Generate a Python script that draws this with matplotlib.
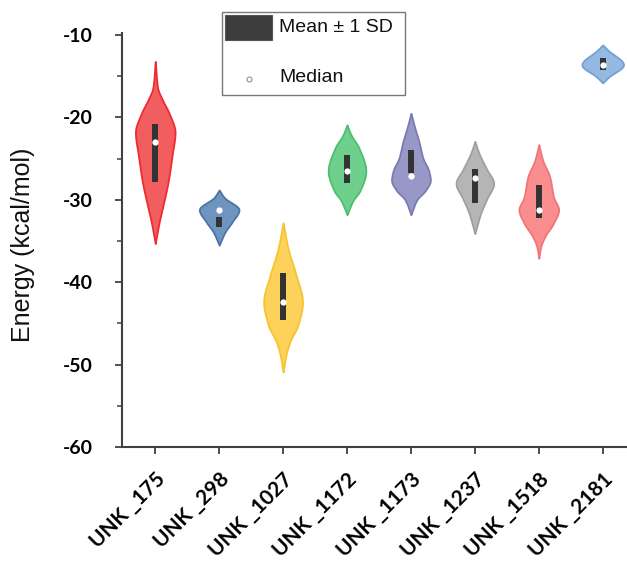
import numpy as np
import matplotlib
matplotlib.use("Agg")
import matplotlib.pyplot as plt
from matplotlib.patches import Rectangle
from matplotlib.lines import Line2D
from matplotlib.ticker import MultipleLocator

plt.rcParams["axes.unicode_minus"] = False

# ---------------- data ----------------
categories = ["UNK _175", "UNK _298", "UNK _1027", "UNK _1172",
              "UNK _1173", "UNK _1237", "UNK _1518", "UNK _2181"]
means = [-24.3, -32.7, -41.75, -26.3, -25.35, -28.35, -30.2, -13.5]
sds = [3.5, 0.6, 2.85, 1.7, 1.35, 2.05, 2.0, 0.7]
medians = [-23.0, -31.2, -42.4, -26.5, -27.1, -27.4, -31.2, -13.6]

# density profile: energy levels and relative width
prof_175_y = [-13.2, -16.4, -17.8, -19.5, -21.8, -24.6, -27.8, -30.6, -32.7, -35.3]
prof_175_w = [0, 0.12, 0.35, 0.70, 1.0, 0.85, 0.65, 0.40, 0.20, 0]
prof_298_y = [-28.8, -29.7, -31.2, -32.7, -33.9, -35.5]
prof_298_w = [0, 0.25, 1.0, 0.65, 0.30, 0]
prof_1027_y = [-32.8, -35.9, -39.1, -42.4, -45.2, -47.2, -48.8, -50.9]
prof_1027_w = [0, 0.25, 0.65, 0.98, 0.75, 0.35, 0.15, 0]
prof_1172_y = [-20.9, -22.1, -23.7, -26.5, -28.9, -30.1, -31.8]
prof_1172_w = [0, 0.20, 0.60, 0.95, 0.65, 0.30, 0]
prof_1173_y = [-19.5, -21.3, -22.9, -24.9, -26.5, -27.6, -28.8, -30.0, -31.8]
prof_1173_w = [0, 0.20, 0.40, 0.60, 0.90, 0.98, 0.75, 0.30, 0]
prof_1237_y = [-22.9, -24.3, -26.3, -28.0, -29.9, -31.6, -32.8, -34.1]
prof_1237_w = [0, 0.20, 0.60, 0.95, 0.60, 0.30, 0.15, 0]
prof_1518_y = [-23.3, -25.2, -27.2, -29.7, -31.2, -32.8, -34.5, -35.7, -37.1]
prof_1518_w = [0, 0.20, 0.55, 0.75, 1.0, 0.75, 0.30, 0.10, 0]
prof_2181_y = [-11.2, -11.8, -13.6, -15.1, -15.8]
prof_2181_w = [0, 0.25, 1.05, 0.30, 0]

profiles_y = [prof_175_y, prof_298_y, prof_1027_y, prof_1172_y,
              prof_1173_y, prof_1237_y, prof_1518_y, prof_2181_y]
profiles_w = [prof_175_w, prof_298_w, prof_1027_w, prof_1172_w,
              prof_1173_w, prof_1237_w, prof_1518_w, prof_2181_w]

face_colors = ["#f25d5f", "#6f94bf", "#fdd25a", "#6fd08e",
               "#9797c8", "#b5b5b5", "#fa8e8e", "#94b9e3"]
edge_colors = ["#ee2b2f", "#4d74a5", "#f7c32e", "#4cbf6d",
               "#7b7bb0", "#a0a0a0", "#f07478", "#74a0d4"]


def pchip(x, y, xn):
    """Monotone piecewise cubic Hermite interpolation."""
    x = np.asarray(x, float)
    y = np.asarray(y, float)
    h = np.diff(x)
    delta = np.diff(y) / h
    n = len(x)
    d = np.zeros(n)
    for k in range(1, n - 1):
        if delta[k - 1] * delta[k] <= 0:
            d[k] = 0.0
        else:
            w1 = 2 * h[k] + h[k - 1]
            w2 = h[k] + 2 * h[k - 1]
            d[k] = (w1 + w2) / (w1 / delta[k - 1] + w2 / delta[k])
    d[0] = delta[0]
    d[-1] = delta[-1]
    idx = np.clip(np.searchsorted(x, xn) - 1, 0, n - 2)
    t = (xn - x[idx]) / h[idx]
    h00 = 2 * t ** 3 - 3 * t ** 2 + 1
    h10 = t ** 3 - 2 * t ** 2 + t
    h01 = -2 * t ** 3 + 3 * t ** 2
    h11 = t ** 3 - t ** 2
    return (h00 * y[idx] + h10 * h[idx] * d[idx] + h01 * y[idx + 1]
            + h11 * h[idx] * d[idx + 1])


# ---------------- figure ----------------
W, H = 627, 562
fig = plt.figure(figsize=(W / 100, H / 100), dpi=100)
ax_left, ax_right, ax_top, ax_bottom = 122, 627, 33, 447
ax = fig.add_axes([ax_left / W, 1 - ax_bottom / H,
                   (ax_right - ax_left) / W, (ax_bottom - ax_top) / H])

max_half = 0.31
positions = np.arange(len(categories))
for i, pos in enumerate(positions):
    py = np.array(profiles_y[i])
    pw = np.array(profiles_w[i])
    order = np.argsort(py)
    py, pw = py[order], pw[order]
    yy = np.linspace(py[0], py[-1], 400)
    ww = np.maximum(pchip(py, pw, yy), 0) * max_half
    ax.fill_betweenx(yy, pos - ww, pos + ww, facecolor=face_colors[i],
                     edgecolor=edge_colors[i], linewidth=1.3, zorder=2)
    ax.vlines(pos, means[i] - sds[i], means[i] + sds[i], color="#333333",
              linewidth=4.3, zorder=3)
    ax.plot(pos, medians[i], "o", color="white", markersize=4.5,
            markeredgewidth=0, zorder=4)

ax.set_xlim(-0.52, 7.38)
ax.set_ylim(-60, -9.75)
ax.yaxis.set_major_locator(MultipleLocator(10))
ax.yaxis.set_minor_locator(MultipleLocator(5))
ax.set_xticks(positions)

ax.set_xticklabels(categories, rotation=45, ha="right",
                   rotation_mode="anchor",
                   family=["Lato", "DejaVu Sans"], weight="bold", size=15)
for lab in ax.get_yticklabels():
    lab.set_fontfamily(["Lato", "DejaVu Sans"])
    lab.set_fontweight("bold")
    lab.set_fontsize(14)

for s in ["top", "right"]:
    ax.spines[s].set_visible(False)
for s in ["left", "bottom"]:
    ax.spines[s].set_color("#404040")
    ax.spines[s].set_linewidth(1.5)

ax.tick_params(axis="y", which="major", direction="out", length=5,
               width=1.3, color="#404040", pad=16)
ax.tick_params(axis="y", which="minor", direction="out", length=3.5,
               width=1.1, color="#404040")
ax.tick_params(axis="x", which="major", direction="out", length=5,
               width=1.3, color="#404040", pad=11)

ax.set_ylabel("Energy (kcal/mol)", family=["Liberation Sans", "DejaVu Sans"],
              fontsize=18, color="#111111")
ax.yaxis.set_label_coords((23 - ax_left) / (ax_right - ax_left),
                          (ax_bottom - 245) / (ax_bottom - ax_top))
ax.yaxis.label.set_va("center")

# ---------------- legend (drawn in figure pixels) ----------------
def fx(px):
    return px / W


def fy(py):
    return 1 - py / H


tf = fig.transFigure
fig.patches.append(Rectangle((fx(222), fy(95)), fx(405) - fx(222),
                             fy(12) - fy(95), transform=tf, facecolor="white",
                             edgecolor="#777777", linewidth=1.0, zorder=5))
fig.patches.append(Rectangle((fx(225), fy(40)), fx(272) - fx(225),
                             fy(15) - fy(40), transform=tf,
                             facecolor="#3d3d3d", edgecolor="#555555",
                             linewidth=0.8, zorder=6))
fig.lines.append(Line2D([fx(249)], [fy(79)], transform=tf, marker="o",
                        markersize=3.5, markerfacecolor="white",
                        markeredgecolor="#999999", markeredgewidth=0.9,
                        linestyle="none", zorder=6))
leg_font = dict(family=["Liberation Sans", "DejaVu Sans"], fontsize=14,
                color="#111111", va="center", ha="left", zorder=7)
fig.text(fx(279), fy(27), "Mean \u00b1 1 SD", transform=tf, **leg_font)
fig.text(fx(279), fy(78), "Median", transform=tf, **leg_font)

fig.savefig("out.png", dpi=100)
